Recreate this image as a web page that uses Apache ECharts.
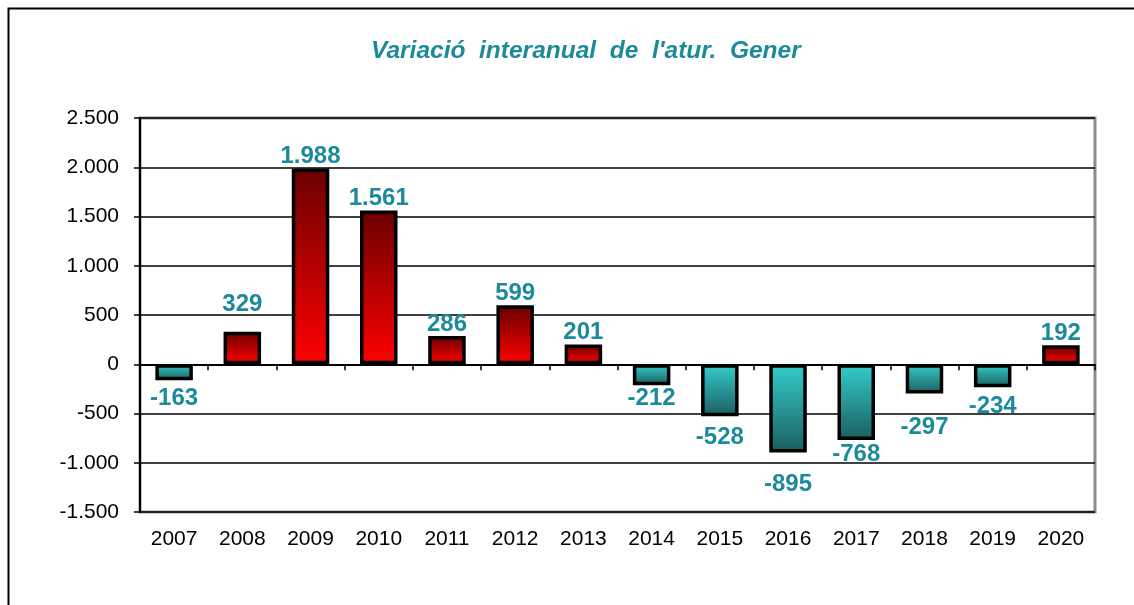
<!DOCTYPE html>
<html>
<head>
<meta charset="utf-8">
<script src="https://cdn.jsdelivr.net/npm/echarts@6/dist/echarts.min.js"></script>
<style>
  html, body { margin: 0; padding: 0; background: #fff; }
  #chart { width: 1134px; height: 605px; }
</style>
</head>
<body>
<div id="chart"></div>
<script>
const years = ['2007', '2008', '2009', '2010', '2011', '2012', '2013', '2014', '2015', '2016', '2017', '2018', '2019', '2020']
const values = [-163, 329, 1988, 1561, 286, 599, 201, -212, -528, -895, -768, -297, -234, 192]
const yMin = -1500
const yMax = 2500
const yStep = 500
// separació (px) de cada etiqueta respecte a la barra, com a l'original
const labelGap = [6, 15, 0, 0, 0, 0, 0, 1, 9, 20, 2, 22, 7, 0]

const chart = echarts.init(document.getElementById('chart'))

// separador de milers amb punt
const fmt = (v) => {
  const s = String(Math.abs(v)).replace(/\B(?=(\d{3})+(?!\d))/g, '.')
  return (v < 0 ? '-' : '') + s
}

const redGrad = new echarts.graphic.LinearGradient(0, 0, 0, 1, [
  { offset: 0, color: '#6a0000' },
  { offset: 1, color: '#ff0000' }
])
const tealGrad = new echarts.graphic.LinearGradient(0, 0, 0, 1, [
  { offset: 0, color: '#35cccc' },
  { offset: 1, color: '#1b5e5e' }
])

const option = {
  backgroundColor: '#fff',
  animation: false,
  title: {
    text: 'Variació  interanual  de  l\'atur.  Gener',
    left: 366,
    top: 34,
    textStyle: {
      color: '#1d8a9c',
      fontFamily: 'Arial, "Liberation Sans", sans-serif',
      fontSize: 24.5,
      fontWeight: 'bold',
      fontStyle: 'italic'
    }
  },
  graphic: [{
    type: 'rect',
    shape: { x: 8.5, y: 8.5, width: 1140, height: 620 },
    style: { fill: 'none', stroke: '#000', lineWidth: 2 },
    silent: true
  }],
  grid: {
    left: 140,
    right: 39,
    top: 118,
    bottom: 93,
    show: true,
    borderColor: '#8c8c8c',
    borderWidth: 3
  },
  xAxis: [{
    type: 'category',
    data: years,
    position: 'bottom',
    axisLine: { show: false, onZero: false },
    axisTick: { show: false },
    axisLabel: {
      margin: 17,
      color: '#000',
      fontSize: 21,
      fontFamily: 'Arial, "Liberation Sans", sans-serif'
    }
  }, {
    type: 'category',
    data: years,
    position: 'bottom',
    axisLine: { show: true, onZero: true, lineStyle: { color: '#000', width: 2 } },
    axisTick: { show: true, length: 6, lineStyle: { color: '#000', width: 1.5 } },
    axisLabel: { show: false }
  }],
  yAxis: {
    type: 'value',
    min: yMin,
    max: yMax,
    interval: yStep,
    axisLine: { show: true, lineStyle: { color: '#000', width: 2 } },
    axisTick: { show: true, length: 6, lineStyle: { color: '#000', width: 1.5 } },
    axisLabel: {
      margin: 21,
      color: '#000',
      fontSize: 21,
      fontFamily: 'Arial, "Liberation Sans", sans-serif',
      formatter: (v) => fmt(v)
    },
    splitLine: { show: true, lineStyle: { color: '#000', width: 1.5 } }
  },
  series: [{
    type: 'bar',
    xAxisIndex: 0,
    barWidth: '55%',
    data: values.map((v, i) => ({
      value: v,
      itemStyle: { color: v >= 0 ? redGrad : tealGrad },
      label: { position: v >= 0 ? 'top' : 'bottom', distance: labelGap[i] }
    })),
    itemStyle: {
      borderColor: '#000',
      borderWidth: 3.5
    },
    label: {
      show: true,
      color: '#1d8a9c',
      fontSize: 24,
      fontWeight: 'bold',
      fontFamily: 'Arial, "Liberation Sans", sans-serif',
      formatter: (p) => fmt(p.value)
    }
  }]
}

chart.setOption(option)
</script>
</body>
</html>
